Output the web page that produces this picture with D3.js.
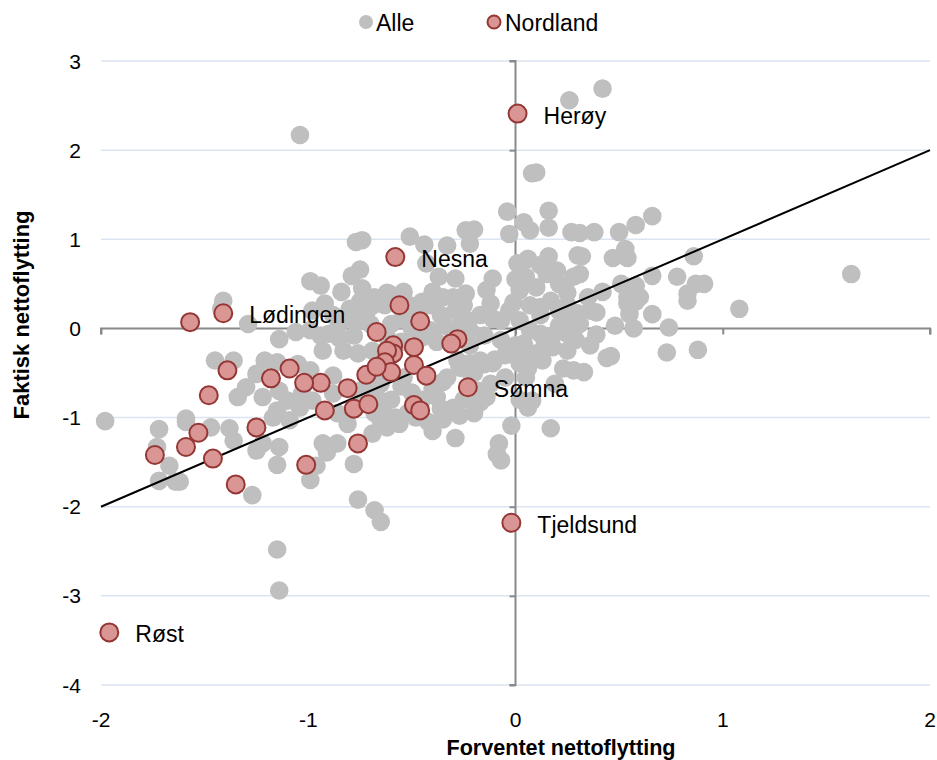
<!DOCTYPE html>
<html><head><meta charset="utf-8">
<script src="https://cdn.jsdelivr.net/npm/d3@7"></script>
<style>body{margin:0;background:#fff}svg{display:block;font-family:"Liberation Sans",Arial,sans-serif}</style>
</head><body>
<svg id="c" width="937" height="760"></svg>
<script>
const xTicks = [-2,-1,0,1,2];
const yTicks = [-4,-3,-2,-1,0,1,2,3];
const seriesNames = ["Alle","Nordland"];
const xTitle = "Forventet nettoflytting";
const yTitle = "Faktisk nettoflytting";

// Alle (grey) [forventet, faktisk]
const alle = [
[0.42,2.69],[0.26,2.56],[-1.04,2.17],
[0.10,1.75],[0.08,1.74],[-0.04,1.31],[0.16,1.32],[0.04,1.19],[0.16,1.13],[-0.03,1.06],[0.07,1.10],[0.27,1.08],[-0.51,1.03],[-0.44,0.94],[-0.24,1.10],[-0.20,1.11],[-0.33,0.93],[-0.22,0.95],[0.01,0.73],[0.06,0.78],[0.16,0.81],[0.30,0.82],[0.12,0.71],[0.15,0.61],[-0.11,0.56],[-0.37,0.58],[-0.29,0.56],[0.05,0.58],[0.21,0.50],[0.28,0.58],[-0.61,0.39],[-0.54,0.41],[-0.40,0.41],[-0.30,0.35],[-0.24,0.39],[-0.14,0.43],[0.02,0.43],[0.10,0.46],[-0.43,0.73],
[-0.77,0.97],[-0.74,0.99],[-0.75,0.66],[-0.79,0.59],[-0.99,0.53],[-0.94,0.48],[-0.84,0.41],[-0.74,0.45],[-0.68,0.35],[-1.41,0.31],
[0.66,1.26],[0.58,1.16],[0.50,1.08],[0.38,1.08],[0.31,1.07],[0.53,0.89],[0.47,0.79],[0.54,0.79],[0.86,0.81],[0.32,0.81],[0.31,0.61],[0.66,0.59],[0.78,0.58],[0.87,0.50],[0.91,0.50],[0.83,0.39],[0.51,0.50],[0.58,0.48],[0.42,0.41],[0.54,0.35],[0.60,0.35],[0.35,0.35],
[0.36,0.20],[0.39,0.18],[0.54,0.28],[0.58,0.30],[0.55,0.16],[0.66,0.16],[0.48,0.03],[0.57,0.00],[0.74,0.01],[0.83,0.31],[1.08,0.22],[0.39,-0.07],[0.31,0.05],[0.73,-0.27],[0.88,-0.24],[0.44,-0.33],[0.46,-0.31],[0.33,-0.49],[1.62,0.61],
[-0.23,0.09],[-0.11,0.11],[0.12,-0.06],[0.18,-0.08],[0.25,-0.06],[0.04,-0.17],[0.10,-0.28],[0.18,-0.21],[0.25,-0.25],[0.02,-0.39],[0.06,-0.45],[0.13,-0.36],[0.23,-0.45],[0.28,-0.47],[-0.17,-0.36],[-0.11,-0.39],[-0.22,-0.39],[-0.28,-0.36],[-0.33,-0.55],[-0.27,-0.44],[-0.17,-0.83],[-0.14,-0.77],[0.08,-0.81],[0.06,-0.89],[-0.20,-0.95],[-0.30,-0.89],[-0.38,-0.77],[-0.02,-1.09],[0.17,-1.12],[-0.29,-1.23],[-0.08,-1.29],[-0.56,-1.07],[-0.62,-1.11],[-0.64,-0.92],[-0.65,-0.62],[-0.54,-0.55],
[-0.25,0.26],[-0.12,0.28],[-0.01,0.29],[0.12,0.24],[0.25,0.26],[0.30,0.17],
[-0.63,0.26],[-0.51,0.26],[-0.41,0.26],[-0.36,0.15],[-0.29,0.20],[-0.17,0.15],[-0.07,0.09],[-0.03,0.20],[0.02,0.09],[0.07,0.26],[0.12,0.15],[0.17,0.31],[0.21,0.20],[0.26,0.09],[-0.41,-0.02],[-0.34,0.03],[-0.22,-0.02],[-0.15,-0.08],[-0.07,-0.13],[0.00,-0.19],[0.07,-0.02],[0.14,-0.13],[0.21,0.03],[0.29,-0.13],[0.36,-0.19],[-0.22,-0.19],
[-0.55,-0.65],[-0.50,-0.72],[-0.45,-0.80],[-0.40,-0.68],[-0.35,-0.60],[-0.25,-0.45],[-0.20,-0.50],[-0.15,-0.40],[-0.10,-0.35],[-0.05,-0.30],[0.00,-0.25],[0.05,-0.35],[-0.52,-0.95],[-0.60,-0.80],[-0.70,-0.62],[-0.75,-0.70],[-0.68,-0.95],[-0.58,-1.00],[-0.42,-1.05],[-0.36,-0.90],[-0.25,-0.80],[-0.18,-0.70],[-0.12,-0.62],[-0.05,-0.55],[0.05,-0.55],[0.02,-0.80],
[-0.55,0.10],[-0.50,0.00],[-0.45,-0.10],[-0.38,-0.15],[-0.60,0.05],[-0.62,-0.10],[-0.55,-0.15],[-0.47,0.18],[-0.35,0.35],[-0.45,0.30],[-0.30,-0.05],[-0.26,0.10],
[-0.88,0.15],[-0.80,0.22],[-0.72,0.18],[-0.66,0.28],[-0.85,0.05],[-0.78,0.10],[-0.70,0.05],[-0.62,0.40],[-0.75,0.30],[-0.98,0.20],[-0.92,0.28],
[-1.29,0.05],[-1.14,-0.12],[-1.06,-0.04],[-0.99,-0.02],[-0.94,-0.08],[-0.90,-0.06],[-0.85,-0.11],[-0.78,-0.08],[-0.70,0.24],[-0.75,0.09],[-0.93,-0.25],[-0.83,-0.25],[-0.76,-0.28],[-0.69,-0.25],[-1.45,-0.36],[-1.36,-0.36],[-1.21,-0.36],[-1.15,-0.38],[-1.05,-0.40],[-0.99,-0.47],[-0.88,-0.53],[-1.25,-0.51],[-1.30,-0.66],[-1.34,-0.77],[-1.14,-0.70],[-1.22,-0.77],[-1.10,-0.81],[-1.03,-0.73],[-0.98,-0.81],[-1.04,-0.89],[-1.15,-0.92],[-1.09,-1.03],[-1.17,-1.00],[-0.88,-0.73],[-0.86,-0.95],[-0.81,-1.07],[-0.65,-1.03],[-0.69,-1.18],[-0.67,-0.77],[-0.76,-0.81],[-1.59,-1.01],[-1.47,-1.11],[-1.38,-1.12],[-1.36,-1.26],[-1.22,-1.29],[-1.14,-1.33],[-0.93,-1.29],[-0.86,-1.29],
[-1.15,-1.53],[-1.25,-1.37],[-1.27,-1.87],[-0.99,-1.70],[-0.96,-1.54],[-0.91,-1.39],[-0.78,-1.52],[-0.76,-1.92],[-0.68,-2.04],[-0.65,-2.17],[-1.15,-2.48],[-1.14,-2.94],[-1.62,-1.72],[-0.09,-1.41],[-0.07,-1.48],
[-1.98,-1.04],[-1.72,-1.13],[-1.59,-1.05],[-1.73,-1.33],[-1.67,-1.54],[-1.72,-1.71],[-1.64,-1.72],[-1.42,0.22],
[-0.48,-1.00],[-0.40,-1.15],[-0.35,-1.02],[-0.27,-0.98],[0.19,-0.62],[0.20,0.65],[0.25,0.40],[0.00,0.55]
];

// Nordland (red) [forventet, faktisk]
const nordland = [
[0.01,2.41],[-0.58,0.80],[-1.41,0.17],[-0.23,-0.66],[-0.02,-2.18],[-1.96,-3.41],
[-1.57,0.07],[-0.56,0.26],[-0.46,0.08],[-0.67,-0.04],[-1.39,-0.47],[-1.48,-0.75],[-1.18,-0.56],[-1.09,-0.45],[-0.94,-0.61],[-1.02,-0.61],[-0.81,-0.67],[-0.72,-0.52],
[-0.59,-0.19],[-0.59,-0.28],[-0.62,-0.25],[-0.63,-0.38],[-0.60,-0.49],[-0.67,-0.43],[-0.49,-0.21],[-0.49,-0.41],[-0.43,-0.53],[-0.28,-0.12],[-0.31,-0.17],
[-0.92,-0.92],[-0.78,-0.90],[-0.71,-0.85],[-0.49,-0.86],[-0.46,-0.92],[-0.76,-1.29],[-1.25,-1.11],[-1.53,-1.17],[-1.59,-1.33],[-1.46,-1.46],[-1.74,-1.42],[-1.01,-1.53],[-1.35,-1.75]
];
const nordlandLabels = ["Herøy","Nesna","Lødingen","Sømna","Tjeldsund","Røst"];
const refLine = [[-2,-2],[2,2]];

const svg = d3.select("#c");
const x = d3.scaleLinear().domain([-2,2]).range([101,930]);
const y = d3.scaleLinear().domain([-4,3]).range([685,61]);
const FS = 21;

// gridlines
svg.append("g").selectAll("line").data(yTicks).join("line")
  .attr("x1",x(-2)).attr("x2",x(2)).attr("y1",d=>y(d)).attr("y2",d=>y(d))
  .attr("stroke","#dbe5f1").attr("stroke-width",1.5);

// axes through zero
const axisCol = "#898989";
const xAxis = svg.append("g").attr("transform",`translate(0,${y(0)})`)
  .call(d3.axisBottom(x).tickValues(xTicks).tickSize(6).tickFormat(""));
const yAxis = svg.append("g").attr("transform",`translate(${x(0)},0)`)
  .call(d3.axisLeft(y).tickValues(yTicks).tickSize(6).tickFormat(""));
[xAxis,yAxis].forEach(g=>{
  g.select(".domain").attr("stroke",axisCol).attr("stroke-width",2);
  g.selectAll(".tick line").attr("stroke",axisCol).attr("stroke-width",2);
});
xAxis.select(".domain").attr("d",`M${x(-2)},6V0H${x(2)}V6`);
yAxis.select(".domain").attr("d",`M-6,${y(3)}H0V${y(-4)}H-6`);

// tick labels
svg.append("g").selectAll("text").data(yTicks).join("text")
  .attr("x",81).attr("y",d=>y(d)).attr("text-anchor","end").attr("dominant-baseline","central")
  .attr("font-size",FS).text(d=>d);
svg.append("g").selectAll("text").data(xTicks).join("text")
  .attr("x",d=>x(d)).attr("y",719).attr("text-anchor","middle").attr("dominant-baseline","central")
  .attr("font-size",FS).text(d=>d);

// axis titles
svg.append("text").attr("x",561).attr("y",747).attr("text-anchor","middle").attr("dominant-baseline","central")
  .attr("font-size",21.6).attr("font-weight","bold").text(xTitle);
svg.append("text").attr("transform",`translate(21,315) rotate(-90)`).attr("text-anchor","middle").attr("dominant-baseline","central")
  .attr("font-size",22).attr("font-weight","bold").text(yTitle);

// grey points
svg.append("g").selectAll("circle").data(alle).join("circle")
  .attr("cx",d=>x(d[0])).attr("cy",d=>y(d[1])).attr("r",9.3).attr("fill","#bfbfbf");

// reference line
svg.append("path").datum(refLine)
  .attr("d",d3.line().x(d=>x(d[0])).y(d=>y(d[1])))
  .attr("stroke","#000").attr("stroke-width",2).attr("fill","none");

// Nordland points
svg.append("g").selectAll("circle").data(nordland).join("circle")
  .attr("cx",d=>x(d[0])).attr("cy",d=>y(d[1])).attr("r",9)
  .attr("fill","#d99694").attr("stroke","#953735").attr("stroke-width",2);

// labels
svg.append("g").selectAll("text").data(nordlandLabels).join("text")
  .attr("x",(d,i)=>x(nordland[i][0])+26).attr("y",(d,i)=>y(nordland[i][1])+2)
  .attr("dominant-baseline","central").attr("font-size",23).text(d=>d);

// legend
const lg = svg.append("g");
lg.append("circle").attr("cx",366).attr("cy",22).attr("r",7).attr("fill","#bfbfbf");
lg.append("text").attr("x",376).attr("y",23).attr("dominant-baseline","central").attr("font-size",23).text(seriesNames[0]);
lg.append("circle").attr("cx",494).attr("cy",22).attr("r",6.5).attr("fill","#d99694").attr("stroke","#953735").attr("stroke-width",2);
lg.append("text").attr("x",505).attr("y",23).attr("dominant-baseline","central").attr("font-size",23).text(seriesNames[1]);
</script>
</body></html>
